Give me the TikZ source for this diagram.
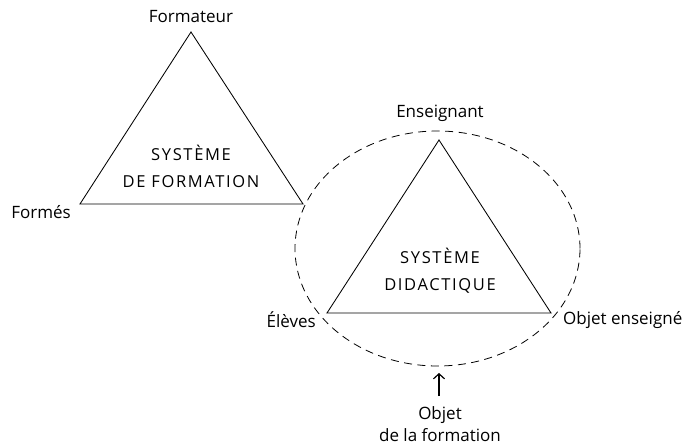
\documentclass[tikz,border=0pt]{standalone}
\usepackage{fontspec}
\setmainfont{Open Sans}
\usetikzlibrary{shapes.geometric,arrows.meta}
\newfontfamily\capsfont[LetterSpace=10]{Open Sans}
\begin{document}
\begin{tikzpicture}[x=1pt,y=-1pt,
  tri/.style={draw=black,line width=0.85pt,line join=miter},
  lab/.style={font=\fontsize{17}{22}\selectfont,inner sep=0pt},
  capstext/.style={font={\capsfont\fontsize{16.5}{27}\selectfont},align=center,inner sep=0pt}]
\useasboundingbox (0,0) rectangle (689,444);
% ellipse
\node[ellipse,draw=black,dash pattern=on 8pt off 5.5pt,line width=0.8pt,
  minimum width=285pt,minimum height=235pt,inner sep=0pt] (ell) at (437.5,248.5) {};
% triangle 1
\coordinate (f1) at (191,32);
\coordinate (f2) at (80,204);
\coordinate (f3) at (303,204);
\draw[tri] (f1) -- (f2) -- (f3) -- cycle;
% triangle 2
\coordinate (d1) at (439,140);
\coordinate (d2) at (327,313);
\coordinate (d3) at (551,313);
\draw[tri] (d1) -- (d2) -- (d3) -- cycle;
% labels
\node[lab] (formateur) at (191,17) {Formateur};
\node[lab,anchor=east] (formes) at (71,212) {Formés};
\node[lab] (enseignant) at (440,113) {Enseignant};
\node[lab,anchor=east] (eleves) at (316,320) {Élèves};
\node[lab,anchor=west] (objetens) at (563,320) {Objet enseigné};
\node[lab,align=center] (objetform) at (440,424) {Objet\\de la formation};
\node[capstext] (sf) at (191,166.5) {SYSTÈME\\DE FORMATION};
\node[capstext] (sd) at (440,270.5) {SYSTÈME\\DIDACTIQUE};
\coordinate (arrs) at (439,396);
\coordinate (arre) at (439,373);
\draw[line width=1.2pt,-{Straight Barb[length=5pt,width=11pt]}] (arrs) -- (arre);
\end{tikzpicture}
\end{document}
